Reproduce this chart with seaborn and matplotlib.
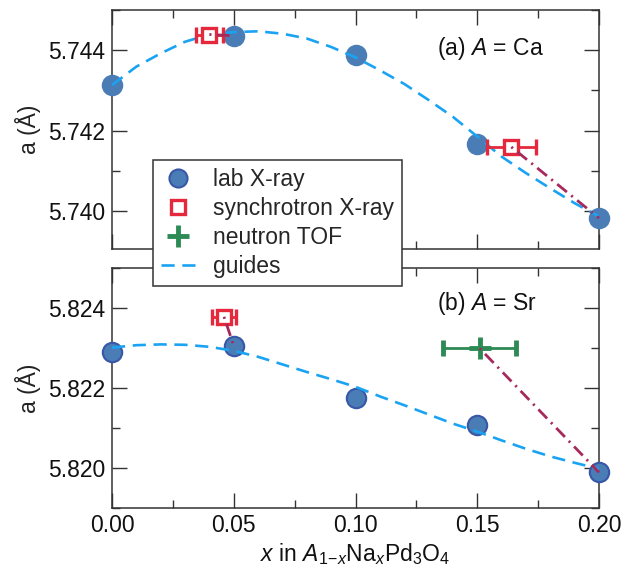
import numpy as np
import pandas as pd
import matplotlib
matplotlib.use("Agg")
import matplotlib.pyplot as plt
import seaborn as sns
from matplotlib.ticker import MultipleLocator, FormatStrFormatter
from matplotlib.lines import Line2D

# ---------------- data ----------------
x_lab = [0.00, 0.05, 0.10, 0.15, 0.20]
ca_lab = [5.74313, 5.74436, 5.74388, 5.74167, 5.73982]
sr_lab = [5.82290, 5.82306, 5.82176, 5.82107, 5.81989]

ca_syn_x = [0.040, 0.164]
ca_syn_y = [5.74439, 5.74159]
ca_syn_xerr = [0.0055, 0.0100]

sr_syn_x = [0.046]
sr_syn_y = [5.82378]
sr_syn_xerr = [0.0048]

sr_tof_x = [0.151]
sr_tof_y = [5.82299]
sr_tof_xerr = [0.0151]

guide_x = [0.00, 0.01, 0.02, 0.03, 0.04, 0.05, 0.06, 0.07, 0.08, 0.09, 0.10,
           0.11, 0.12, 0.13, 0.14, 0.15, 0.16, 0.17, 0.18, 0.19, 0.20]
ca_guide = [5.74313, 5.74359, 5.74392, 5.74421, 5.74439, 5.74445, 5.74447,
            5.74441, 5.74429, 5.74408, 5.74382, 5.74350, 5.74316, 5.74276,
            5.74234, 5.74185, 5.74135, 5.74094, 5.74056, 5.74019, 5.73986]
sr_guide = [5.82301, 5.82307, 5.82309, 5.82308, 5.82303, 5.82293, 5.82278,
            5.82259, 5.82240, 5.82222, 5.82203, 5.82179, 5.82157, 5.82134,
            5.82111, 5.82091, 5.82069, 5.82048, 5.82029, 5.82013, 5.81998]

# connector lines (dash-dot): from other measurement to lab point
ca_links = [([0.040, 0.05], [5.74439, 5.74436]), ([0.164, 0.20], [5.74159, 5.73982])]
sr_links = [([0.046, 0.05], [5.82378, 5.82306]), ([0.151, 0.20], [5.82299, 5.81989])]

xticks = [0.00, 0.05, 0.10, 0.15, 0.20]
ca_yticks = [5.740, 5.742, 5.744]
sr_yticks = [5.820, 5.822, 5.824]

# ---------------- style ----------------
sns.set_theme(style="ticks")
plt.rcParams['font.family'] = ['Liberation Sans', 'DejaVu Sans']
plt.rcParams['mathtext.fontset'] = 'custom'
plt.rcParams['mathtext.rm'] = 'Liberation Sans'
plt.rcParams['mathtext.it'] = 'Liberation Sans:italic'
plt.rcParams['lines.scale_dashes'] = False

FS = 16.5
LAB_FACE = '#4a7db6'
LAB_EDGE = '#3857a6'
GUIDE = '#1aa3f2'
SYN = '#e6283c'
TOF = '#2e8a55'
LINK = '#a6295c'
SPINE = '#333333'

fig = plt.figure(figsize=(6.34, 5.72), dpi=100)
W, H = 634, 572
def ax_at(l, t, r, b):
    return fig.add_axes([l / W, 1 - b / H, (r - l) / W, (b - t) / H])

ax1 = ax_at(112, 10, 599, 249)
ax2 = ax_at(112, 268, 599, 508)

def style(ax, yticks, ylim, show_x):
    ax.set_xlim(0, 0.2)
    ax.set_ylim(*ylim)
    ax.xaxis.set_major_locator(MultipleLocator(0.05))
    ax.xaxis.set_minor_locator(MultipleLocator(0.025))
    ax.set_yticks(yticks)
    ax.yaxis.set_minor_locator(MultipleLocator(0.001))
    ax.yaxis.set_major_formatter(FormatStrFormatter('%.3f'))
    ax.xaxis.set_major_formatter(FormatStrFormatter('%.2f'))
    ax.tick_params(which='both', direction='in', top=True, right=True,
                   color=SPINE, width=1.0, labelsize=FS, labelcolor='#111111')
    ax.tick_params(which='major', length=11, pad=5)
    ax.tick_params(which='minor', length=5.5)
    ax.tick_params(axis='x', which='major', pad=4)
    if not show_x:
        ax.tick_params(axis='x', labelbottom=False)
    for s in ax.spines.values():
        s.set_color(SPINE)
        s.set_linewidth(1.1)
    ax.set_ylabel('a (Å)', fontsize=FS, color='#222222', labelpad=5)

def draw(ax, lab, guide, links, edge):
    df = pd.DataFrame({'x': x_lab, 'y': lab})
    sns.scatterplot(data=df, x='x', y='y', ax=ax, s=195, color=LAB_FACE,
                    edgecolor=edge, linewidth=1.5, zorder=3, clip_on=False,
                    legend=False)
    for lx, ly in links:
        ax.plot(lx, ly, color=LINK, lw=2.0, linestyle=(0, (1.5, 4, 9, 4)),
                zorder=5, clip_on=False)
    gdf = pd.DataFrame({'x': guide_x, 'y': guide})
    sns.lineplot(data=gdf, x='x', y='y', ax=ax, color=GUIDE, lw=1.9,
                 linestyle=(0, (9.5, 5.5)), sort=False, estimator=None,
                 zorder=4)
    ax.set_xlabel('')

draw(ax1, ca_lab, ca_guide, ca_links, LAB_FACE)
draw(ax2, sr_lab, sr_guide, sr_links, LAB_EDGE)

ax1.errorbar(ca_syn_x, ca_syn_y, xerr=ca_syn_xerr, fmt='s', ms=10.5,
             mfc='white', mec=SYN, mew=2.4, ecolor=SYN, elinewidth=2.0,
             capsize=5.6, capthick=2.0, zorder=4.5)
ax2.errorbar(sr_syn_x, sr_syn_y, xerr=sr_syn_xerr, fmt='s', ms=10.5,
             mfc='white', mec=SYN, mew=2.4, ecolor=SYN, elinewidth=2.0,
             capsize=5.8, capthick=2.0, zorder=4.5)
ax2.errorbar(sr_tof_x, sr_tof_y, xerr=sr_tof_xerr, fmt='+', ms=16,
             mec=TOF, mew=3.5, ecolor=TOF, elinewidth=2.0,
             capsize=6, capthick=2.0, zorder=4.5)

style(ax1, ca_yticks, (5.73905, 5.745), False)
style(ax2, sr_yticks, (5.819, 5.825), True)
ax2.set_xticks(xticks)
ax2.set_xlabel(r'$x$ in $A_{1\!-\!x}$Na$_x$Pd$_3$O$_4$', fontsize=FS,
               color='#111111', labelpad=3)
fig.align_ylabels([ax1, ax2])

ax1.text(0.667, 0.841, r'(a) $A$ = Ca', transform=ax1.transAxes,
         fontsize=FS, va='center', ha='left', color='#111111')
ax2.text(0.667, 0.853, r'(b) $A$ = Sr', transform=ax2.transAxes,
         fontsize=FS, va='center', ha='left', color='#111111')

handles = [
    Line2D([], [], ls='none', marker='o', ms=13, mfc=LAB_FACE, mec=LAB_EDGE, mew=1.5),
    Line2D([], [], ls='none', marker='s', ms=10.5, mfc='white', mec=SYN, mew=2.4),
    Line2D([], [], ls='none', marker='+', ms=16, mec=TOF, mew=3.5),
    Line2D([], [], color=GUIDE, lw=1.9, ls=(0, (9.5, 5.5))),
]
labels = ['lab X-ray', 'synchrotron X-ray', 'neutron TOF', 'guides']
leg = fig.legend(handles, labels, loc='upper left',
                 bbox_to_anchor=(153 / W, 1 - 160 / H), fontsize=FS,
                 frameon=True, fancybox=False, framealpha=1, edgecolor=SPINE,
                 handlelength=1.5, handletextpad=0.8, labelspacing=0.27,
                 borderpad=0.33, borderaxespad=0)
leg.get_frame().set_linewidth(1.1)
leg.set_zorder(10)

fig.savefig('out.png', dpi=100)
